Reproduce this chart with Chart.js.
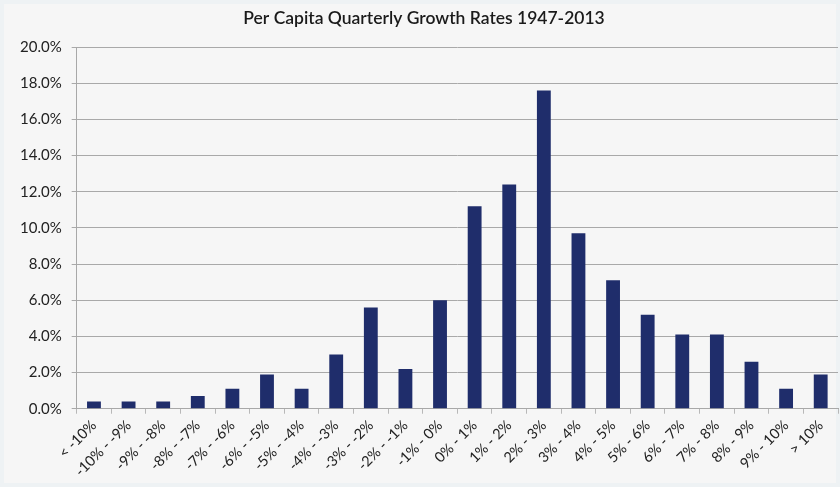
<!DOCTYPE html>
<html>
<head>
<meta charset="utf-8">
<script src="https://cdn.jsdelivr.net/npm/chart.js@4/dist/chart.umd.min.js"></script>
<style>
  html, body { margin: 0; padding: 0; background: #eef2f4; }
  #wrap { width: 840px; height: 487px; position: relative; }
</style>
</head>
<body>
<div id="wrap"><canvas id="growthChart" width="840" height="487"></canvas></div>
<script>
// Growth-rate buckets and share of quarters in each (%)
const buckets = ['< -10%', '-10% - -9%', '-9% - -8%', '-8% - -7%', '-7% - -6%', '-6% - -5%',
                 '-5% - -4%', '-4% - -3%', '-3% - -2%', '-2% - -1%', '-1% - 0%', '0% - 1%',
                 '1% - 2%', '2% - 3%', '3% - 4%', '4% - 5%', '5% - 6%', '6% - 7%',
                 '7% - 8%', '8% - 9%', '9% - 10%', '> 10%'];
const shares = [0.4, 0.4, 0.4, 0.7, 1.1, 1.9, 1.1, 3.0, 5.6, 2.2, 6.0, 11.2,
                12.4, 17.6, 9.7, 7.1, 5.2, 4.1, 4.1, 2.6, 1.1, 1.9];
const yTicks = [0, 2, 4, 6, 8, 10, 12, 14, 16, 18, 20];

// light panel behind the chart
const panelBg = {
    id: 'panelBg',
    beforeDraw(chart) {
        const ctx = chart.ctx;
        ctx.save();
        ctx.fillStyle = '#f6f6f6';
        ctx.fillRect(4, 4, chart.width - 8, chart.height - 8);
        ctx.restore();
    }
};

const ctx = document.getElementById('growthChart').getContext('2d');
new Chart(ctx, {
    type: 'bar',
    data: {
        labels: buckets,
        datasets: [{
            data: shares,
            backgroundColor: '#1f2d6b',
            barPercentage: 0.8,
            categoryPercentage: 0.5
        }]
    },
    options: {
        responsive: false,
        animation: false,
        layout: { padding: { left: 10, right: 2, top: 0, bottom: 4 } },
        plugins: {
            legend: { display: false },
            tooltip: { enabled: false },
            title: {
                display: true,
                text: 'Per Capita Quarterly Growth Rates 1947-2013',
                color: '#1a1a1a',
                font: { family: 'Lato', size: 17.5, weight: '600' },
                padding: { top: 8, bottom: 18 }
            }
        },
        scales: {
            x: {
                grid: {
                    display: true,
                    offset: true,
                    drawOnChartArea: false,
                    drawTicks: true,
                    tickLength: 5,
                    color: '#b8b8b8'
                },
                border: { color: '#a8a8a8' },
                ticks: {
                    minRotation: 45,
                    maxRotation: 45,
                    autoSkip: false,
                    color: '#222',
                    font: { family: 'Lato', size: 14.5 }
                }
            },
            y: {
                min: 0,
                max: 20,
                afterBuildTicks(axis) {
                    axis.ticks = yTicks.map(v => ({ value: v }));
                },
                grid: {
                    color: '#a9a9a9',
                    tickLength: 5
                },
                border: { color: '#a8a8a8' },
                ticks: {
                    color: '#222',
                    padding: 10,
                    font: { family: 'Lato', size: 15 },
                    callback: v => v.toFixed(1) + '%'
                }
            }
        }
    },
    plugins: [panelBg]
});
</script>
</body>
</html>
